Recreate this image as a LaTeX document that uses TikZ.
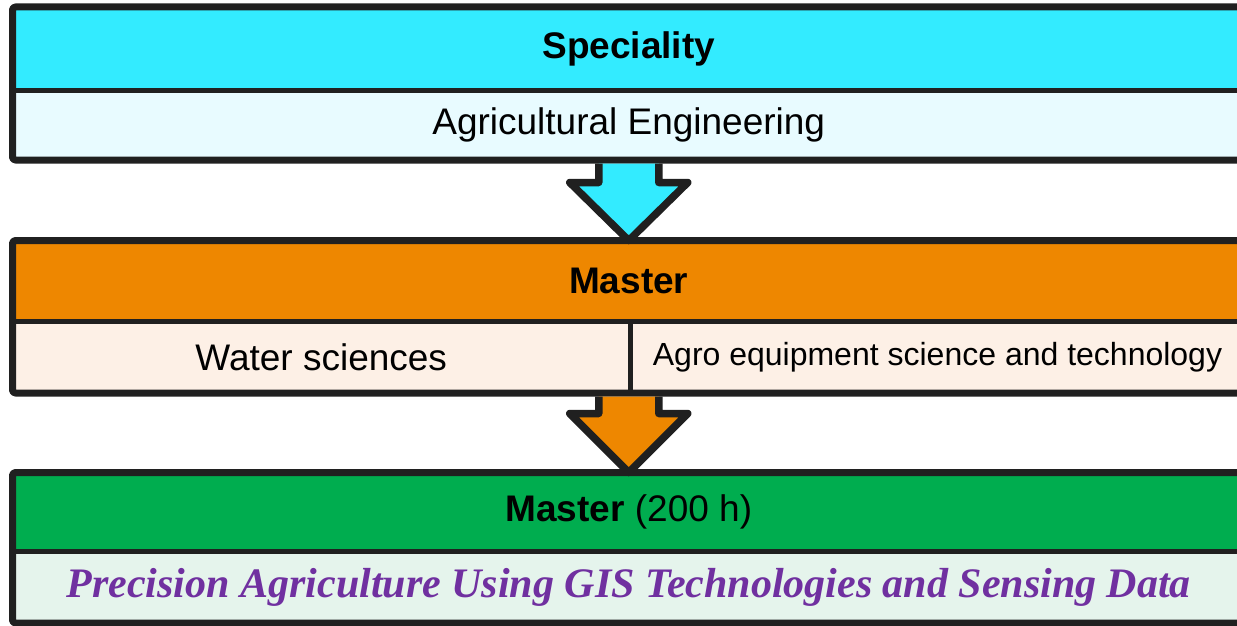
\documentclass[tikz,border=0pt]{standalone}
\usepackage{fontspec}
\setmainfont{Liberation Sans}
\newfontfamily\serifbi{Liberation Serif}
\usetikzlibrary{calc,backgrounds}
\definecolor{framegray}{RGB}{32,32,32}
\definecolor{specfill}{RGB}{51,235,255}
\definecolor{speclight}{RGB}{232,251,255}
\definecolor{mastfill}{RGB}{238,135,0}
\definecolor{mastlight}{RGB}{253,240,230}
\definecolor{gisfill}{RGB}{0,173,79}
\definecolor{gislight}{RGB}{229,244,236}
\definecolor{gistext}{RGB}{112,48,160}
\tikzset{
  every picture/.style={
    x=1pt, y=1pt,
    line join=round
  },
  bodycell/.style={
    rectangle, inner sep=0pt, outer sep=0pt,
    font=\fontsize{37}{44}\selectfont
  },
  headcell/.style={
    bodycell, minimum width=1232.5pt,
    font=\fontsize{37}{44}\selectfont\bfseries
  },
  boxframe/.style={
    draw=framegray, line width=7pt, rounded corners=3pt
  },
  divider/.style={
    draw=framegray, line width=5pt
  },
  boxshadow/.style={
    fill=black, opacity=0.16, rounded corners=4pt
  },
  flow arrow/.style={
    draw=framegray, line width=7.5pt, line join=round
  }
}

\begin{document}
\begin{tikzpicture}
  \useasboundingbox (0,0) rectangle (1237,-626);
  \clip (0,0) rectangle (1237,-626);
  \fill[white] (0,0) rectangle (1237,-626);

  \node[headcell, fill=specfill, minimum height=83pt] (spec) at (628.75,-48.5) {Speciality};
  \node[bodycell, fill=speclight, minimum width=1232.5pt, minimum height=70pt] (eng)
    at (628.75,-125) {Agricultural Engineering};
  \draw[divider] (spec.south west) -- (spec.south east);
  \draw[boxframe] (spec.north west) rectangle (eng.south east);

  \node[headcell, fill=mastfill, minimum height=80.5pt] (mast) at (628.75,-280.75) {Master};
  \node[bodycell, fill=mastlight, minimum width=617.5pt, minimum height=72pt] (water)
    at (321.25,-357) {Water sciences};
  \node[bodycell, fill=mastlight, minimum width=615pt, minimum height=72pt,
    font=\fontsize{32}{38}\selectfont] (agro)
    at (937.5,-357) {Agro equipment science and technology};
  \draw[divider] (mast.south west) -- (mast.south east);
  \draw[divider] (water.north east) -- (water.south east);
  \draw[boxframe] (mast.north west) rectangle (agro.south east);

  \node[headcell, fill=gisfill, minimum height=79pt] (gis) at (628.75,-512) {Master \mdseries(200 h)};
  \node[bodycell, fill=gislight, minimum width=1232.5pt, minimum height=71.5pt,
    font=\fontsize{42}{50}\selectfont\serifbi\bfseries\itshape, text=gistext] (prec)
    at (628.75,-587.25) {Precision Agriculture Using GIS Technologies and Sensing Data};
  \draw[divider] (gis.south west) -- (gis.south east);
  \draw[boxframe] (gis.north west) rectangle (prec.south east);

  \begin{scope}[on background layer]
    \fill[boxshadow] ([shift={(1,-8)}]spec.north west) rectangle ([shift={(1,-8)}]eng.south east);
    \fill[boxshadow] ([shift={(1,-8)}]mast.north west) rectangle ([shift={(1,-8)}]agro.south east);
    \fill[boxshadow] ([shift={(1,-8)}]gis.north west) rectangle ([shift={(1,-8)}]prec.south east);
  \end{scope}

  \coordinate (mastlow) at (mast.south |- water.south);
  \draw[flow arrow, fill=specfill] ([xshift=-30pt,yshift=-3.5pt]eng.south)
    |- ([xshift=-59pt,yshift=58pt]mast.north) -- (mast.north)
    -- ([xshift=59pt,yshift=58pt]mast.north) -| ([xshift=30pt,yshift=-3.5pt]eng.south);
  \draw[flow arrow, fill=mastfill] ([xshift=-30pt,yshift=-3.5pt]mastlow)
    |- ([xshift=-59pt,yshift=59pt]gis.north) -- (gis.north)
    -- ([xshift=59pt,yshift=59pt]gis.north) -| ([xshift=30pt,yshift=-3.5pt]mastlow);
\end{tikzpicture}
\end{document}
